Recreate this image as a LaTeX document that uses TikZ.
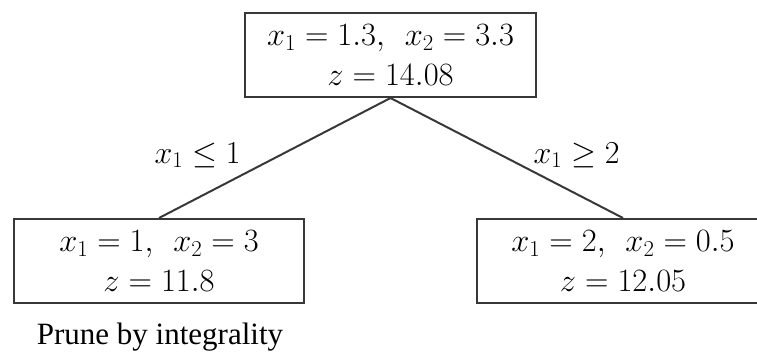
\RequirePackage{fix-cm}
\documentclass[tikz,border=0pt]{standalone}
\usepackage[no-math]{fontspec}
\newfontfamily\prunefont{Liberation Serif}
\begin{document}
\begin{tikzpicture}[x=1pt,y=-1pt,
  bbox/.style={draw=black!78, line width=2pt, minimum height=84pt, inner sep=0pt,
    align=center, font=\fontsize{32.5}{40}\selectfont},
  edge/.style={draw=black!78, line width=2pt},
  elabel/.style={inner sep=0pt, anchor=base, font=\fontsize{32}{40}\selectfont}]
\useasboundingbox (0,0) rectangle (757,354);
\clip (0,0) rectangle (757,354);
\node[bbox, minimum width=291pt] (top) at (390.5,55) {$x_1 = 1.3,\;\,x_2 = 3.3$\\$z = 14.08$};
\node[bbox, minimum width=290pt] (L) at (159,261) {$x_1 = 1,\;\,x_2 = 3$\\$z = 11.8$};
\node[bbox, minimum width=292pt] (R) at (623,261) {$x_1 = 2,\;\,x_2 = 0.5$\\$z = 12.05$};
\draw[edge] (top.south) -- (L.north);
\draw[edge] (top.south) -- (R.north);
\node[elabel] (l1) at (197.5,163) {$x_1 \leq 1$};
\node[elabel] (l2) at (576.5,163) {$x_1 \geq 2$};
\node[inner sep=0pt, anchor=base, font=\prunefont\fontsize{31}{36}\selectfont] (prune) at (160,344) {Prune by integrality};
\end{tikzpicture}
\end{document}
